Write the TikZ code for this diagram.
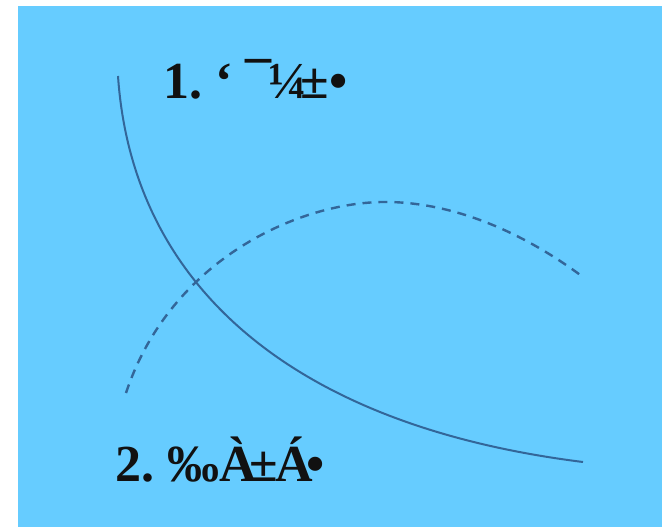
\documentclass[tikz,border=0pt]{standalone}
\usepackage{fontspec}
\setmainfont{Liberation Serif}
\usetikzlibrary{positioning}
\definecolor{sky}{HTML}{66CCFF}
\definecolor{ink}{HTML}{336699}
\definecolor{type}{HTML}{111111}
\tikzset{
  heading/.style = {anchor=base west, inner sep=0pt, text=type,
                    font=\fontsize{52}{60}\selectfont\bfseries\frenchspacing},
  curve/.style   = {line width=2pt, draw=ink},
  dcurve/.style  = {line width=2.4pt, draw=ink, dash pattern=on 9pt off 7pt},
}

\begin{document}
\begin{tikzpicture}[x=1pt, y=-1pt]

  \useasboundingbox (0,0) rectangle (662,527);
  \fill[sky] (18,6) rectangle (662,527);

  % the two headings
  \node[heading] (h1) at (163,99) {1. ‘ ¯\kern-3pt¼\kern-7pt±•};
  \node[heading] (h2) at (115,481) {2. ‰À\kern-7.5pt±\kern-2ptÁ\kern-7pt•};

  % solid curve
  \coordinate (s0) at (118,76);
  \coordinate (s1) at (583,462);
  \draw[curve] (s0) .. controls (132.3,286) and (293,425.75) .. (s1);

  % dashed curve
  \coordinate (d0) at (126,393);
  \coordinate (dtop) at (390,202);
  \coordinate (d1) at (583,277);
  \draw[dcurve] (d0) .. controls (170,260) and (300,200) .. (dtop)
                     .. controls (470,204) and (540,245) .. (d1);

\end{tikzpicture}
\end{document}
